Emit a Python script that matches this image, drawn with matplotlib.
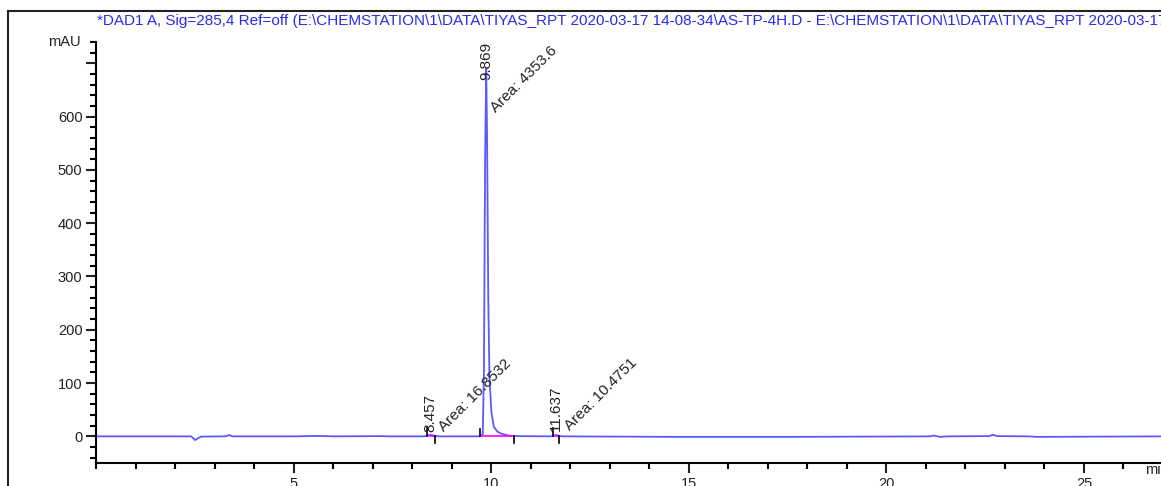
import numpy as np
import matplotlib
matplotlib.use("Agg")
import matplotlib.pyplot as plt
from matplotlib.ticker import MultipleLocator

plt.rcParams['font.family'] = ['Liberation Sans', 'DejaVu Sans']

title = ("*DAD1 A, Sig=285,4 Ref=off (E:\\CHEMSTATION\\1\\DATA\\TIYAS_RPT 2020-03-17 14-08-34"
         "\\AS-TP-4H.D - E:\\CHEMSTATION\\1\\DATA\\TIYAS_RPT 2020-03-17 14-08-34\\AS-TP-4H.D)")

# signal (min, mAU)
sig_time = [0.0, 2.40, 2.50, 2.56, 2.65, 3.20, 3.30, 3.36, 3.45, 5.00, 5.60, 6.00, 7.20,
            7.40, 8.30, 8.40, 8.46, 8.55, 8.65, 9.70, 9.78, 9.81, 9.84, 9.869, 9.89,
            9.92, 9.95, 10.00, 10.06, 10.15, 10.25, 10.40, 10.55, 11.50, 11.58, 11.64,
            11.70, 11.80, 14.70, 17.60, 21.10, 21.20, 21.35, 21.55, 22.60, 22.70, 22.80,
            23.60, 23.80, 27.0]
sig_mau = [0.0, 0.0, -7.0, -4.0, -0.5, 0.0, 0.5, 2.5, 0.0, 0.0, 0.8, 0.0, 0.5,
           0.0, 0.0, 2.0, 3.0, 1.5, 0.0, 0.0, 4.0, 120.0, 520.0, 690.0, 560.0,
           260.0, 110.0, 45.0, 18.0, 9.0, 5.0, 2.0, 0.5, 0.0, 1.5, 2.5,
           1.0, 0.0, -1.0, -1.0, 0.0, 1.5, -1.0, 0.0, 0.5, 3.0, 0.5,
           0.0, -1.0, 0.0]

# integration results
peak_rt = [8.457, 9.869, 11.637]
peak_area = ["16.8532", "4353.6", "10.4751"]
peak_top = [9, 668, 10]
base_start = [8.36, 9.72, 11.57]
base_end = [8.58, 10.56, 11.70]
base_level = [1.5, 0.0, 1.5]

fig = plt.figure(figsize=(11.61, 4.86), dpi=100)
ax = fig.add_axes([96.4 / 1161, 23 / 486, 1 - 96.4 / 1161, (463 - 42) / 486])

ax.plot(sig_time, sig_mau, color='#5a5aff', lw=1.3, solid_joinstyle='round')

for s, e, b in zip(base_start, base_end, base_level):
    ax.plot([s, e], [b, 0.0], color='#ff00ff', lw=1.2)
    ax.plot([s, s], [b, b + 14], color='black', lw=1.2)
    ax.plot([e, e], [0, -13], color='black', lw=1.2)

for rt, top, area in zip(peak_rt, peak_top, peak_area):
    ax.text(rt, top, f"{rt:.3f}", rotation=90, ha='center', va='bottom',
            fontsize=11, color='#222222')
    if top > 100:
        ax_x, ax_y = rt + 0.30, top - 66
    else:
        ax_x, ax_y = rt + 0.40, top - 4
    ax.text(ax_x, ax_y, "Area: " + area, rotation=45, rotation_mode='anchor',
            ha='left', va='bottom', fontsize=11, color='#222222')

ax.set_xlim(0, 26.95)
ax.set_ylim(-50, 740)
ax.xaxis.set_minor_locator(MultipleLocator(1))
ax.yaxis.set_minor_locator(MultipleLocator(20))
ax.set_xticks([5, 10, 15, 20, 25])
ax.set_yticks([0, 100, 200, 300, 400, 500, 600, 700])
ax.set_yticklabels(['0', '100', '200', '300', '400', '500', '600', ''])

for side in ('top', 'right'):
    ax.spines[side].set_visible(False)
for side in ('left', 'bottom'):
    ax.spines[side].set_linewidth(1.5)
ax.tick_params(which='major', length=7, width=1.5, labelsize=10.5, pad=3, colors='#222222')
ax.tick_params(which='minor', length=4, width=1.5)
ax.tick_params(axis='x', which='major', pad=3)

ax.text(-0.015, 740, "mAU", transform=ax.get_yaxis_transform(), ha='right', va='center',
        fontsize=10.5, color='#222222')
ax.text(26.55, -50, "min", ha='left', va='top', fontsize=10.5, color='#222222')

fig.text(97 / 1161, 1 - 21 / 486, title, ha='left', va='center', fontsize=11,
         color='#2a2aee')

# frame of the report page
fig.add_artist(plt.Line2D([8 / 1161, 8 / 1161], [0, 1 - 11 / 486], color='#222222', lw=1.5))
fig.add_artist(plt.Line2D([8 / 1161, 1], [1 - 11 / 486, 1 - 11 / 486], color='#222222', lw=1.5))

fig.savefig("out.png", dpi=100)
